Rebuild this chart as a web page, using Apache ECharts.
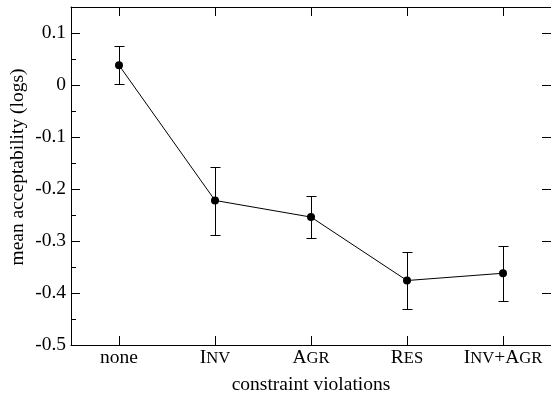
<!DOCTYPE html>
<html>
<head>
<meta charset="utf-8">
<script src="https://cdn.jsdelivr.net/npm/echarts@6/dist/echarts.min.js"></script>
<style>
  html, body { margin: 0; padding: 0; background: #fff; }
  #chart { width: 551px; height: 400px; }
</style>
</head>
<body>
<div id="chart"></div>
<script>
// Conditions (small-caps labels are written in upper case)
const categories = ['none', 'INV', 'AGR', 'RES', 'INV+AGR'];
// Mean acceptability (log scale) per condition
const means = [0.038, -0.222, -0.254, -0.376, -0.362];
// Error bar ends
const lowerBounds = [0.001, -0.289, -0.294, -0.431, -0.415];
const upperBounds = [0.075, -0.157, -0.214, -0.322, -0.309];
// Y range
const yMin = -0.5;
const yMax = 0.15;

const FONT = '"Liberation Serif", "Times New Roman", serif';
const BIG = 19.5;
const SMALL = 16.6;

// Render upper-case words as small caps: first letter full size, rest reduced.
function smallCaps(label) {
  if (!/[A-Z]/.test(label)) return '{b|' + label + '}';
  let out = '';
  const parts = label.match(/[A-Z]+|[^A-Z]+/g);
  parts.forEach(p => {
    if (/^[A-Z]+$/.test(p)) {
      out += '{b|' + p[0] + '}';
      if (p.length > 1) out += '{s|' + p.slice(1) + '}';
    } else {
      out += '{b|' + p + '}';
    }
  });
  return out;
}

const chart = echarts.init(document.getElementById('chart'));

const errorData = categories.map((c, i) => [i, lowerBounds[i], upperBounds[i]]);

const option = {
  backgroundColor: '#fff',
  animation: false,
  textStyle: { fontFamily: FONT, color: '#000' },
  grid: { left: 71, top: 7, width: 488, height: 342, containLabel: false },
  xAxis: [
    {
      type: 'category',
      data: categories,
      position: 'bottom',
      boundaryGap: true,
      axisLine: { show: true, onZero: false, lineStyle: { color: '#000', width: 1 } },
      axisTick: { show: true, inside: true, length: 9, alignWithLabel: true, interval: 0, lineStyle: { color: '#000' } },
      axisLabel: {
        interval: 0,
        margin: 3,
        formatter: v => smallCaps(v),
        rich: {
          b: { fontFamily: FONT, fontSize: BIG, lineHeight: BIG, color: '#000', verticalAlign: 'bottom' },
          s: { fontFamily: FONT, fontSize: SMALL, lineHeight: SMALL, color: '#000', verticalAlign: 'bottom' }
        }
      },
      name: 'constraint violations',
      nameLocation: 'middle',
      nameGap: 30,
      nameTextStyle: { fontFamily: FONT, fontSize: BIG, color: '#000' },
      splitLine: { show: false }
    },
    {
      type: 'category',
      data: categories,
      position: 'top',
      boundaryGap: true,
      axisLine: { show: true, onZero: false, lineStyle: { color: '#000', width: 1 } },
      axisTick: { show: true, inside: true, length: 9, alignWithLabel: true, interval: 0, lineStyle: { color: '#000' } },
      axisLabel: { show: false },
      splitLine: { show: false }
    }
  ],
  yAxis: [
    {
      type: 'value',
      min: yMin,
      max: yMax,
      interval: 0.1,
      position: 'left',
      axisLine: { show: true, onZero: false, lineStyle: { color: '#000', width: 1 } },
      axisTick: { show: true, inside: true, length: 9, lineStyle: { color: '#000' } },
      axisLabel: {
        showMaxLabel: false,
        margin: 5,
        fontFamily: FONT,
        fontSize: BIG,
        color: '#000'
      },
      splitLine: { show: false }
    },
    {
      // minor ticks every 0.05
      type: 'value',
      min: yMin,
      max: yMax,
      interval: 0.05,
      position: 'left',
      axisLine: { show: false, onZero: false },
      axisTick: { show: true, inside: true, length: 5, lineStyle: { color: '#000' } },
      axisLabel: { show: false },
      splitLine: { show: false }
    },
    {
      type: 'value',
      min: yMin,
      max: yMax,
      interval: 0.1,
      position: 'right',
      axisLine: { show: true, onZero: false, lineStyle: { color: '#000', width: 1 } },
      axisTick: { show: true, inside: true, length: 9, lineStyle: { color: '#000' } },
      axisLabel: { show: false },
      splitLine: { show: false }
    }
  ],
  graphic: [
    {
      type: 'text',
      x: 18,
      y: 167,
      rotation: Math.PI / 2,
      style: {
        text: 'mean acceptability (logs)',
        fontFamily: FONT,
        fontSize: BIG,
        fill: '#000',
        align: 'center',
        verticalAlign: 'middle'
      }
    }
  ],
  series: [
    {
      type: 'custom',
      xAxisIndex: 0,
      yAxisIndex: 0,
      data: errorData,
      z: 2,
      renderItem: (params, api) => {
        const x = api.value(0);
        const lo = api.coord([x, api.value(1)]);
        const hi = api.coord([x, api.value(2)]);
        // snap the stem to a pixel centre so it draws crisp
        const cx = Math.round(lo[0]) + 0.5;
        const yLo = Math.round(lo[1]) + 0.5;
        const yHi = Math.round(hi[1]) + 0.5;
        const half = 5;
        const style = { stroke: '#000', lineWidth: 1, fill: null };
        return {
          type: 'group',
          children: [
            { type: 'line', shape: { x1: cx, y1: yLo, x2: cx, y2: yHi }, style },
            { type: 'line', shape: { x1: cx - half, y1: yLo, x2: cx + half, y2: yLo }, style },
            { type: 'line', shape: { x1: cx - half, y1: yHi, x2: cx + half, y2: yHi }, style }
          ]
        };
      }
    },
    {
      type: 'line',
      xAxisIndex: 0,
      yAxisIndex: 0,
      data: means,
      z: 3,
      symbol: 'circle',
      symbolSize: 8,
      itemStyle: { color: '#000' },
      lineStyle: { color: '#000', width: 1 }
    }
  ]
};

chart.setOption(option);
</script>
</body>
</html>
